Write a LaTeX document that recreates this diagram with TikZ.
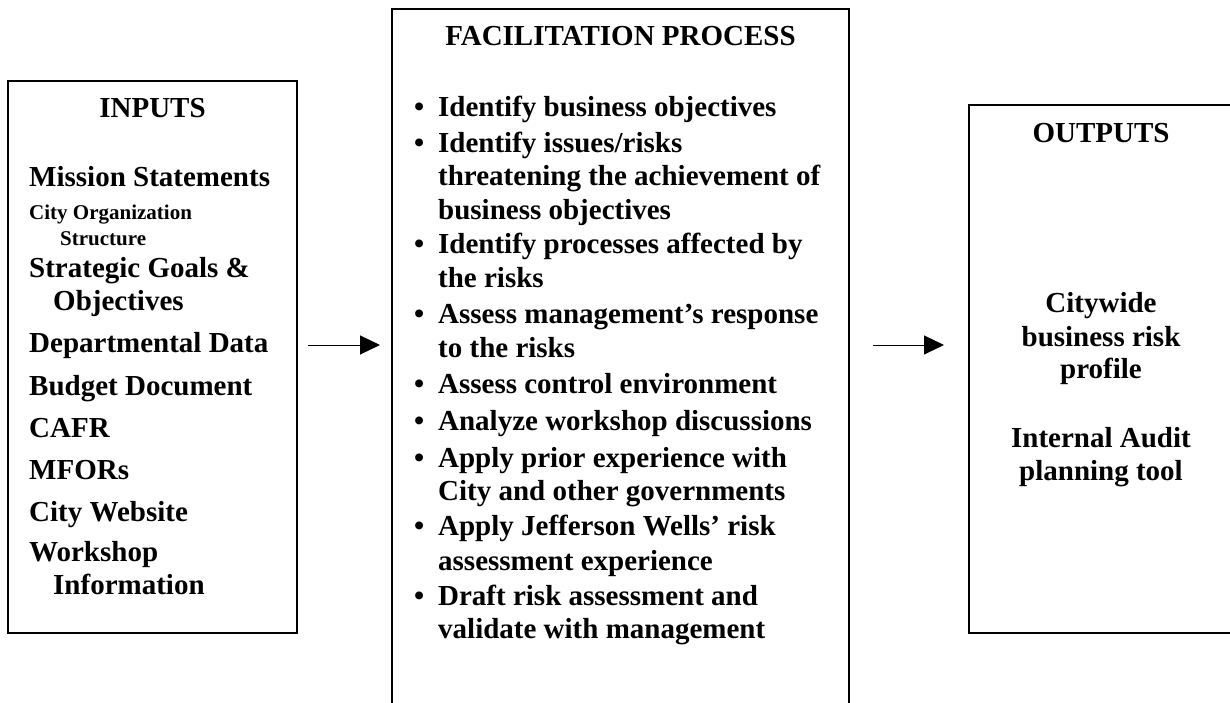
\documentclass[tikz,border=0pt]{standalone}
\usepackage{fontspec}
\setmainfont{Liberation Serif}
\usetikzlibrary{arrows.meta}
\newcommand{\itemdot}{\llap{\textbullet\hspace{14pt}}}
\begin{document}
\begin{tikzpicture}[x=1pt,y=-1pt,
  box/.style={draw, line width=2pt, inner sep=0pt},
  txt/.style={inner sep=0pt, anchor=base west, font=\bfseries\fontsize{29}{34}\selectfont},
  smalltxt/.style={txt, font=\bfseries\fontsize{21}{24}\selectfont},
  ctr/.style={txt, anchor=base},
  flow/.style={line width=1pt, -{Triangle[length=20pt,width=19pt]}}]
\useasboundingbox (0,0) rectangle (1230,703);
\clip (0,0) rectangle (1230,703);

% the three boxes
\node[box, minimum width=289pt, minimum height=552pt] (inputs) at (152.5,357) {};
\node[box, minimum width=457pt, minimum height=751pt] (process) at (620.5,384.5) {};
\node[box, minimum width=271pt, minimum height=528pt] (outputs) at (1104.5,369) {};

% inputs
\node[ctr] (inhead) at (152.5,118) {INPUTS};
\node[txt] (in1) at (29,187) {Mission Statements};
\node[smalltxt] (in2) at (29,220) {City Organization};
\node[smalltxt] (in2b) at (60,246) {Structure};
\node[txt] (in3) at (29,277) {Strategic Goals \&};
\node[txt] (in3b) at (53,310) {Objectives};
\node[txt] (in4) at (29,352) {Departmental Data};
\node[txt] (in5) at (29,395) {Budget Document};
\node[txt] (in6) at (29,437) {CAFR};
\node[txt] (in7) at (29,479) {MFORs};
\node[txt] (in8) at (29,521) {City Website};
\node[txt] (in9) at (29,561) {Workshop};
\node[txt] (in9b) at (53,594) {Information};

% facilitation process
\node[ctr] (prhead) at (620.5,46) {FACILITATION PROCESS};
\node[txt] (p1) at (438,117) {\itemdot Identify business objectives};
\node[txt] (p2) at (438,153) {\itemdot Identify issues/risks};
\node[txt] (p2b) at (438,186) {threatening the achievement of};
\node[txt] (p2c) at (438,219) {business objectives};
\node[txt] (p3) at (438,253) {\itemdot Identify processes affected by};
\node[txt] (p3b) at (438,287) {the risks};
\node[txt] (p4) at (438,323) {\itemdot Assess management’s response};
\node[txt] (p4b) at (438,357) {to the risks};
\node[txt] (p5) at (438,393) {\itemdot Assess control environment};
\node[txt] (p6) at (438,430) {\itemdot Analyze workshop discussions};
\node[txt] (p7) at (438,467) {\itemdot Apply prior experience with};
\node[txt] (p7b) at (438,500) {City and other governments};
\node[txt] (p8) at (438,535) {\itemdot Apply Jefferson Wells’ risk};
\node[txt] (p8b) at (438,570) {assessment experience};
\node[txt] (p9) at (438,605) {\itemdot Draft risk assessment and};
\node[txt] (p9b) at (438,638) {validate with management};

% outputs
\node[ctr] (outhead) at (1101,143) {OUTPUTS};
\node[ctr] (o1) at (1101,312) {Citywide};
\node[ctr] (o1b) at (1101,346) {business risk};
\node[ctr] (o1c) at (1101,378) {profile};
\node[ctr] (o2) at (1101,447) {Internal Audit};
\node[ctr] (o2b) at (1101,480) {planning tool};

% flow arrows between the boxes
\coordinate (a1s) at (308,345);
\coordinate (a1e) at (380,345);
\coordinate (a2s) at (873,345);
\coordinate (a2e) at (944,345);
\draw[flow] (a1s) -- (a1e);
\draw[flow] (a2s) -- (a2e);
\end{tikzpicture}
\end{document}
